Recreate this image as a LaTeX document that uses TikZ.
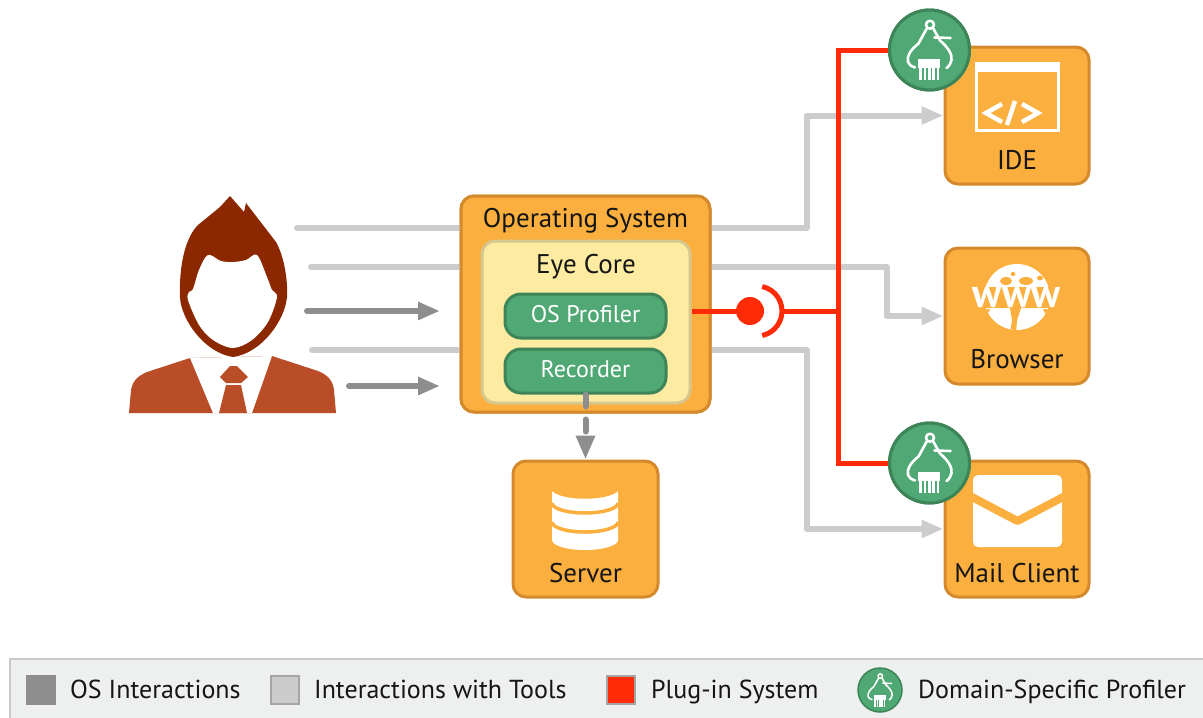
\documentclass[tikz,border=0pt]{standalone}
\usepackage{fontspec}
\setmainfont{PT Sans}
\usetikzlibrary{arrows.meta}

\definecolor{boxorange}{HTML}{FBAF3E}
\definecolor{boxedge}{HTML}{D48A2C}
\definecolor{corefill}{HTML}{FEEBA2}
\definecolor{coreedge}{HTML}{D6C78C}
\definecolor{profgreen}{HTML}{50A874}
\definecolor{profedge}{HTML}{3D8558}
\definecolor{plugred}{HTML}{FF2B06}
\definecolor{toolgray}{HTML}{CCCCCC}
\definecolor{osgray}{HTML}{8E8E8E}
\definecolor{hairbrown}{HTML}{8B2800}
\definecolor{suitbrown}{HTML}{B84D28}
\definecolor{legendbg}{HTML}{EEEFEF}
\definecolor{legendedge}{HTML}{C9C9C9}
\definecolor{inktext}{HTML}{151515}

% caliper-and-comb glyph of a domain-specific profiler, drawn at a node's centre
\newcommand\ProfIcon[3]{%
  \begin{scope}[shift={(#1.center)}, scale=#2, line width=#3pt, white,
                line cap=round, line join=round]
    \draw (0.5,-25.3) circle[radius=4];
    \draw (-2.5,-22) -- (-11,-6.5) .. controls (-19,0) and (-23,6) .. (-21.5,12)
          .. controls (-20.5,15) and (-17.5,17) .. (-14.5,17.5);
    \draw (3.5,-22) -- (10.5,-9.5) .. controls (18,-3) and (23,4) .. (22,10)
          .. controls (21,14) and (19,17) .. (17,18);
    \draw (5,-12.5) -- (21,-12);
    \fill (-11.2,8.7) rectangle (10.5,17.5);
    \foreach \tx in {-9,-4.6,-0.3,4,8.3} \fill (\tx-1.3,17) rectangle (\tx+1.3,30);
  \end{scope}}

\begin{document}
\begin{tikzpicture}[x=1pt,y=-1pt,
  appbox/.style={draw=boxedge, fill=boxorange, line width=3pt, rounded corners=13pt,
                 inner sep=0pt},
  corebox/.style={draw=coreedge, fill=corefill, line width=3pt, rounded corners=13pt,
                  inner sep=0pt},
  modbox/.style={draw=profedge, fill=profgreen, line width=3pt, rounded corners=16pt,
                 inner sep=0pt, minimum width=161pt, minimum height=44pt},
  profnode/.style={circle, draw=profedge, fill=profgreen, line width=3pt, inner sep=0pt,
                   minimum size=80pt},
  title/.style={font=\fontsize{27}{32}\selectfont, text=inktext, inner sep=0pt, anchor=base},
  modlabel/.style={font=\fontsize{24}{28}\selectfont, text=white, inner sep=0pt, anchor=base},
  legendtext/.style={font=\fontsize{26}{30}\selectfont, text=inktext, inner sep=0pt,
                     anchor=base west},
  wwwtext/.style={font=\bfseries\fontsize{40}{40}\selectfont, inner sep=0pt},
  toolline/.style={draw=toolgray, line width=6pt, line cap=round, line join=round},
  toolarrow/.style={toolline, -{Triangle[length=22pt,width=17pt]}},
  osarrow/.style={draw=osgray, line width=6pt, line cap=round,
                  -{Triangle[length=22pt,width=17pt]}},
  dasharrow/.style={draw=osgray, line width=6pt, line cap=round, dash pattern=on 12pt off 13pt,
                    -{Triangle[length=24pt,width=18pt]}},
  plugline/.style={draw=plugred, line width=5pt, line join=miter},
  legsq/.style={minimum size=28pt, inner sep=0pt, line width=2pt}
]
\useasboundingbox (0,0) rectangle (1203,718);
\clip (0,0) rectangle (1203,718);

% ---------- legend bar ----------
\fill[legendbg, draw=legendedge, line width=2pt] (10,659) rectangle (1220,730);
\node[legsq, fill=osgray, draw=osgray] (legos) at (41,690) {};
\node[legendtext] (legostext) at (70,698) {OS Interactions};
\node[legsq, fill=toolgray, draw=osgray!80] (legtool) at (285,690) {};
\node[legendtext] (legtooltext) at (314,698) {Interactions with Tools};
\node[legsq, fill=plugred, draw=osgray!80] (legplug) at (621,690) {};
\node[legendtext] (legplugtext) at (651,698) {Plug-in System};
\node[profnode, minimum size=44pt, line width=1.5pt] (legprof) at (880,690) {};
\ProfIcon{legprof}{0.55}{1.5}
\node[legendtext] (legproftext) at (918,698) {Domain-Specific Profiler};

% ---------- user ----------
\fill[suitbrown] (129,413) -- (131,390) .. controls (133,380) and (138,376) .. (147,372)
  -- (190,358) -- (272,356) -- (318,371) .. controls (328,375) and (333,381) .. (334,390)
  -- (336,413) -- cycle;
\fill[white] (190,358) -- (272,356) -- (252,413) -- (213,413) -- cycle;
\fill[suitbrown] (220,377) -- (230,366) -- (237,366) -- (248,377) -- (241,383) -- (226,383) -- cycle;
\fill[suitbrown] (226,385) -- (241,385) -- (247,413) -- (219,413) -- cycle;
\fill[hairbrown] (220,207) -- (230,196) -- (244,212) -- (246,203) -- (276,242)
  .. controls (284,256) and (288,280) .. (287,297)
  .. controls (285,320) and (262,353) .. (233,357)
  .. controls (205,353) and (181,320) .. (180,297)
  .. controls (179,266) and (185,238) .. (198,225) -- cycle;
\fill[white] plot[smooth cycle, tension=0.55] coordinates {
  (208,255) (221,261) (233,262) (246,260) (257,255) (267,277) (272,290) (277,297)
  (268,322) (252,340) (233,348) (213,340) (199,325) (188,300) (189,292) (193,289) (199,270)};

% ---------- interactions entering the operating system ----------
\coordinate (u1) at (297,228);
\coordinate (u2) at (311,267);
\coordinate (u3) at (307,311);
\coordinate (u3end) at (440,311);
\coordinate (u4) at (312,350);
\coordinate (u5) at (349,386);
\coordinate (u5end) at (440,386);

\node[appbox, minimum width=249pt, minimum height=216pt] (os) at (585.5,304) {};

\draw[toolline] (u1) -- (u1 -| os.west);
\draw[toolline] (u2) -- (u2 -| os.west);
\draw[toolline] (u4) -- (u4 -| os.west);
\draw[osarrow] (u3) -- (u3end);
\draw[osarrow] (u5) -- (u5end);

% ---------- tools ----------
\node[appbox, minimum width=144pt, minimum height=137pt] (ide) at (1017,115.5) {};
\node[appbox, minimum width=144pt, minimum height=136pt] (browser) at (1017,316) {};
\node[appbox, minimum width=144pt, minimum height=136pt] (mail) at (1017,529) {};
\node[appbox, minimum width=145pt, minimum height=136pt] (server) at (585.5,529) {};

% interactions forwarded to the tools
\draw[toolarrow] (os.east |- u1) -- ++(95,0) |- (ide.west);
\draw[toolarrow] (os.east |- u2) -- ++(175,0) |- (browser.west);
\draw[toolarrow] (os.east |- u4) -- ++(95,0) |- (mail.west);

% ---------- plug-in system ----------
\coordinate (bus) at (838,311);
\coordinate (socket) at (782,311);
\node[profnode] (prof1) at (929.5,50) {};
\node[profnode] (prof2) at (929.5,463) {};
\draw[plugline] (prof1.center) -| (bus) |- (prof2.center);
\draw[plugline] (socket) -- (bus);
\node[profnode] at (prof1) {};
\node[profnode] at (prof2) {};
\ProfIcon{prof1}{1}{2.6}
\ProfIcon{prof2}{1}{2.6}

% operating system contents
\node[appbox, minimum width=249pt, minimum height=216pt] at (os) {};
\node[title] (ostitle) at (585.5,227) {Operating System};
\node[corebox, minimum width=208pt, minimum height=162pt] (eye) at (586,322) {};
\node[title] (eyetitle) at (586,273) {Eye Core};
\node[modbox] (osprof) at (585.5,316) {};
\node[modlabel] at (585.5,322.5) {OS Profiler};
\node[modbox] (rec) at (585.5,371) {};
\node[modlabel] at (585.5,377.5) {Recorder};

\node[circle, fill=plugred, minimum size=28pt, inner sep=0pt] (plugdot) at (750,311) {};
\draw[plugline] (eye.east |- plugdot) -- (plugdot);
\draw[plugline] ([shift={(757,311)}]-78:25) arc[start angle=-78, end angle=78, radius=25];

% recorder stores to the server
\draw[dasharrow] (rec.south) -- (server.north);

% ---------- tool labels and glyphs ----------
\node[title] (idetitle) at (1017,169) {IDE};
\node[title] (browsertitle) at (1017,368) {Browser};
\node[title] (mailtitle) at (1017,582) {Mail Client};
\node[title] (servertitle) at (585.5,582) {Server};

% code window
\draw[white, line width=3.5pt] (976.5,63.5) rectangle (1058.5,130.5);
\fill[white] (975,62) rectangle (1060,72);
\draw[white, line width=4.5pt, line join=miter] (1002,104) -- (986,113) -- (1002,122);
\draw[white, line width=4.5pt] (1015,101) -- (1007,125);
\draw[white, line width=4.5pt, line join=miter] (1022,104) -- (1038,113) -- (1022,122);

% globe: white continents on an orange sea, split by a band carrying "www"
\coordinate (globe) at (1017,297);
\begin{scope}
  \fill[white] (globe) circle[radius=33];
  \clip (globe) circle[radius=33];
  \draw[boxorange, line width=1.5pt] (986,284) .. controls (990,275) and (995,269) .. (1002,265);
  \fill[boxorange] (1006,281) ellipse[x radius=6, y radius=4];
  \fill[boxorange] (1013,274) ellipse[x radius=2.5, y radius=2];
  \fill[boxorange] (1026,281) ellipse[x radius=7, y radius=4];
  \fill[boxorange] (1040,278) ellipse[x radius=3, y radius=2.5];
  \fill[boxorange] (1010,308) -- (1021,308) -- (1017,320) -- (1016,334) -- (1010,334)
    -- (1012,320) -- cycle;
  \fill[boxorange] (1043,309) -- (1052,309) -- (1052,320) -- (1046,316) -- cycle;
  \fill[boxorange] (982,309) -- (990,309) -- (986,318) -- (982,318) -- cycle;
\end{scope}
\fill[boxorange] (964,286.5) rectangle (1070,308);
\node[wwwtext, text=white] (wwwlabel) at (1016.5,297.5) {www};

% envelope
\begin{scope}
  \fill[white, rounded corners=5pt] (973,475) rectangle (1062,547);
  \clip (973,475) rectangle (1062,547);
  \draw[boxorange, line width=8pt, line join=round] (970,496) -- (1017.5,521) -- (1065,496);
\end{scope}

% database
\fill[white] (552,488) arc[start angle=180, end angle=0, x radius=33, y radius=10]
  -- (618,540) arc[start angle=0, end angle=180, x radius=33, y radius=10] -- cycle;
\foreach \dy in {487,503,522} {
  \draw[boxorange, line width=3.5pt] (552,\dy) arc[start angle=180, end angle=0, x radius=33, y radius=10];
}
\end{tikzpicture}
\end{document}
